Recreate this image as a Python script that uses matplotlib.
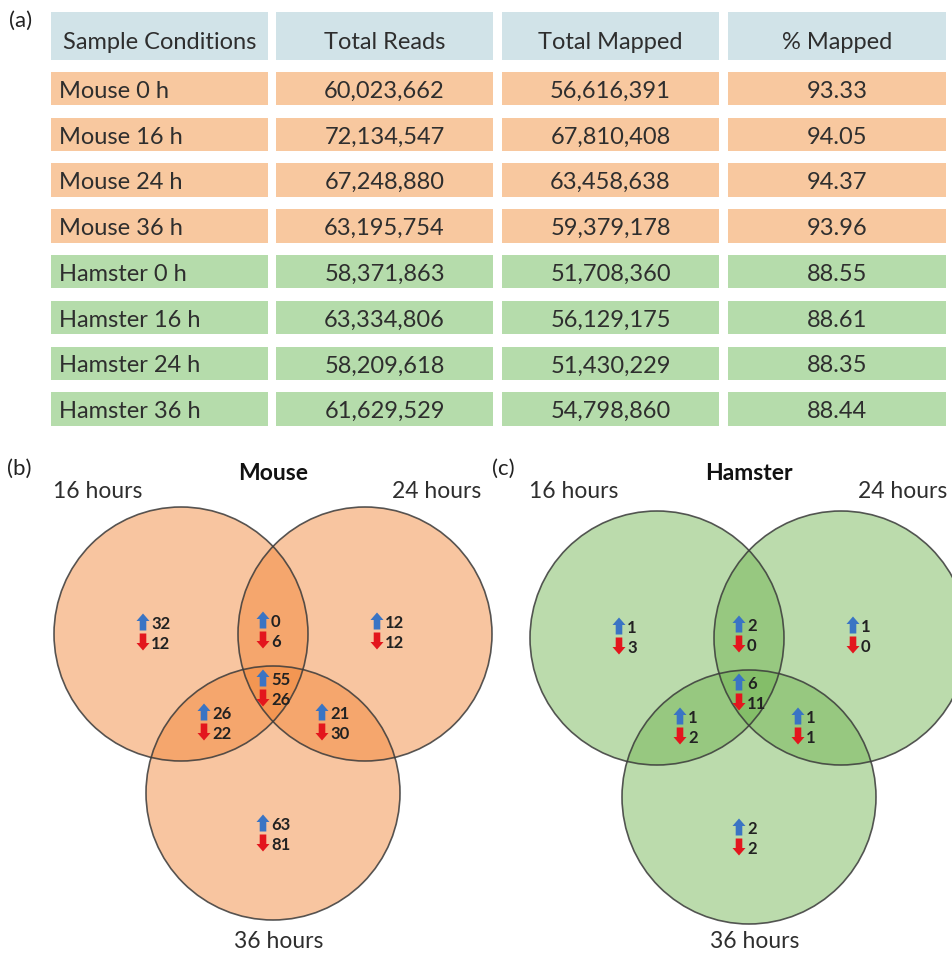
import matplotlib.pyplot as plt
from matplotlib.patches import Rectangle, Circle, Polygon

plt.rcParams['font.family'] = ['Lato', 'DejaVu Sans']

# table (a)
headers = ["Sample Conditions", "Total Reads", "Total Mapped", "% Mapped"]
conditions = ["Mouse 0 h", "Mouse 16 h", "Mouse 24 h", "Mouse 36 h",
              "Hamster 0 h", "Hamster 16 h", "Hamster 24 h", "Hamster 36 h"]
total_reads = [60023662, 72134547, 67248880, 63195754,
               58371863, 63334806, 58209618, 61629529]
total_mapped = [56616391, 67810408, 63458638, 59379178,
                51708360, 56129175, 51430229, 54798860]
pct_mapped = [93.33, 94.05, 94.37, 93.96, 88.55, 88.61, 88.35, 88.44]

# venn regions: only 16, 16&24, only 24, all three, 16&36, 24&36, only 36
regions = ["16", "16&24", "24", "16&24&36", "16&36", "24&36", "36"]
mouse_up = [32, 0, 12, 55, 26, 21, 63]
mouse_down = [12, 6, 12, 26, 22, 30, 81]
hamster_up = [1, 2, 1, 6, 1, 1, 2]
hamster_down = [3, 0, 0, 11, 2, 1, 2]
set_labels = ["16 hours", "24 hours", "36 hours"]

TXT = '#2e2e2e'
HEAD = '#d1e3e8'
ORANGE = '#f8c89f'
GREEN = '#b5dcab'

fig = plt.figure(figsize=(9.52, 9.54), dpi=100)
ax = fig.add_axes([0, 0, 1, 1])
ax.set_xlim(0, 952)
ax.set_ylim(954, 0)
ax.axis('off')

# ---- table ----
col_x = [(51, 268), (276, 493), (502, 719), (728, 946)]
row_top0, row_pitch, row_h = 72.7, 45.8, 33.5
fs_tab = 17

ax.text(9, 21, "(a)", fontsize=16, color='#222222', va='center')
for (x0, x1), h in zip(col_x, headers):
    ax.add_patch(Rectangle((x0, 13), x1 - x0, 48, color=HEAD, lw=0))
    ax.text((x0 + x1) / 2, 49, h, fontsize=fs_tab, color=TXT,
            ha='center', va='baseline')

for i, cond in enumerate(conditions):
    top = row_top0 + i * row_pitch
    fc = ORANGE if cond.startswith("Mouse") else GREEN
    for x0, x1 in col_x:
        ax.add_patch(Rectangle((x0, top), x1 - x0, row_h, color=fc, lw=0))
    base = top + 25
    ax.text(59, base, cond, fontsize=fs_tab, color=TXT, va='baseline')
    vals = [f"{total_reads[i]:,}", f"{total_mapped[i]:,}", f"{pct_mapped[i]:.2f}"]
    for (x0, x1), v in zip(col_x[1:], vals):
        ax.text((x0 + x1) / 2, base, v, fontsize=fs_tab, color=TXT,
                ha='center', va='baseline')


# ---- venn diagrams ----
def up_arrow(x, y, color):
    w, bw, hh, h = 6.5, 3.3, 7.5, 8.5
    pts = [(x, y - h), (x + w, y - h + hh), (x + bw, y - h + hh),
           (x + bw, y + h), (x - bw, y + h), (x - bw, y - h + hh),
           (x - w, y - h + hh)]
    ax.add_patch(Polygon(pts, closed=True, color=color, lw=0, zorder=5))


def down_arrow(x, y, color):
    w, bw, hh, h = 6.5, 3.3, 7.5, 8.5
    pts = [(x, y + h), (x + w, y + h - hh), (x + bw, y + h - hh),
           (x + bw, y - h), (x - bw, y - h), (x - bw, y + h - hh),
           (x - w, y + h - hh)]
    ax.add_patch(Polygon(pts, closed=True, color=color, lw=0, zorder=5))


centers = [(0, 0), (184, 0), (92, 159)]
radius = 127
spots = [(-38, -12), (82, -14), (196, -13), (82, 44),
         (23, 78), (141, 78), (82, 189)]


def venn(ox, oy, ups, downs, face, title, tag, tag_x, label24_x):
    for cx, cy in centers:
        ax.add_patch(Circle((ox + cx, oy + cy), radius, facecolor=face,
                            alpha=0.47, lw=0, zorder=2))
        ax.add_patch(Circle((ox + cx, oy + cy), radius, fill=False,
                            edgecolor='#3a3a3a', lw=1.2, alpha=0.85, zorder=3))
    for (dx, dy), u, d in zip(spots, ups, downs):
        x, y = ox + dx, oy + dy
        up_arrow(x, y, '#3a74c4')
        down_arrow(x, y + 20, '#e3161d')
        ax.text(x + 8, y + 1, str(u), fontsize=12, fontweight='bold',
                color='#222222', va='center', zorder=6)
        ax.text(x + 8, y + 21, str(d), fontsize=12, fontweight='bold',
                color='#222222', va='center', zorder=6)
    ax.text(tag_x, 469, tag, fontsize=16, color='#222222', va='center')
    ax.text(ox + 92, 474, title, fontsize=16.5, fontweight='bold',
            color='#111111', ha='center', va='center')
    ax.text(ox - 83, 492, set_labels[0], fontsize=16.5, color=TXT,
            ha='center', va='center')
    ax.text(label24_x, 492, set_labels[1], fontsize=16.5, color=TXT,
            ha='center', va='center')
    ax.text(ox + 98, 942, set_labels[2], fontsize=16.5, color=TXT,
            ha='center', va='center')


venn(181, 635, mouse_up, mouse_down, '#f28435', "Mouse", "(b)", 7, 437)
venn(657, 639, hamster_up, hamster_down, '#6fb450', "Hamster", "(c)", 492, 903)

fig.savefig("out.png", dpi=100)
